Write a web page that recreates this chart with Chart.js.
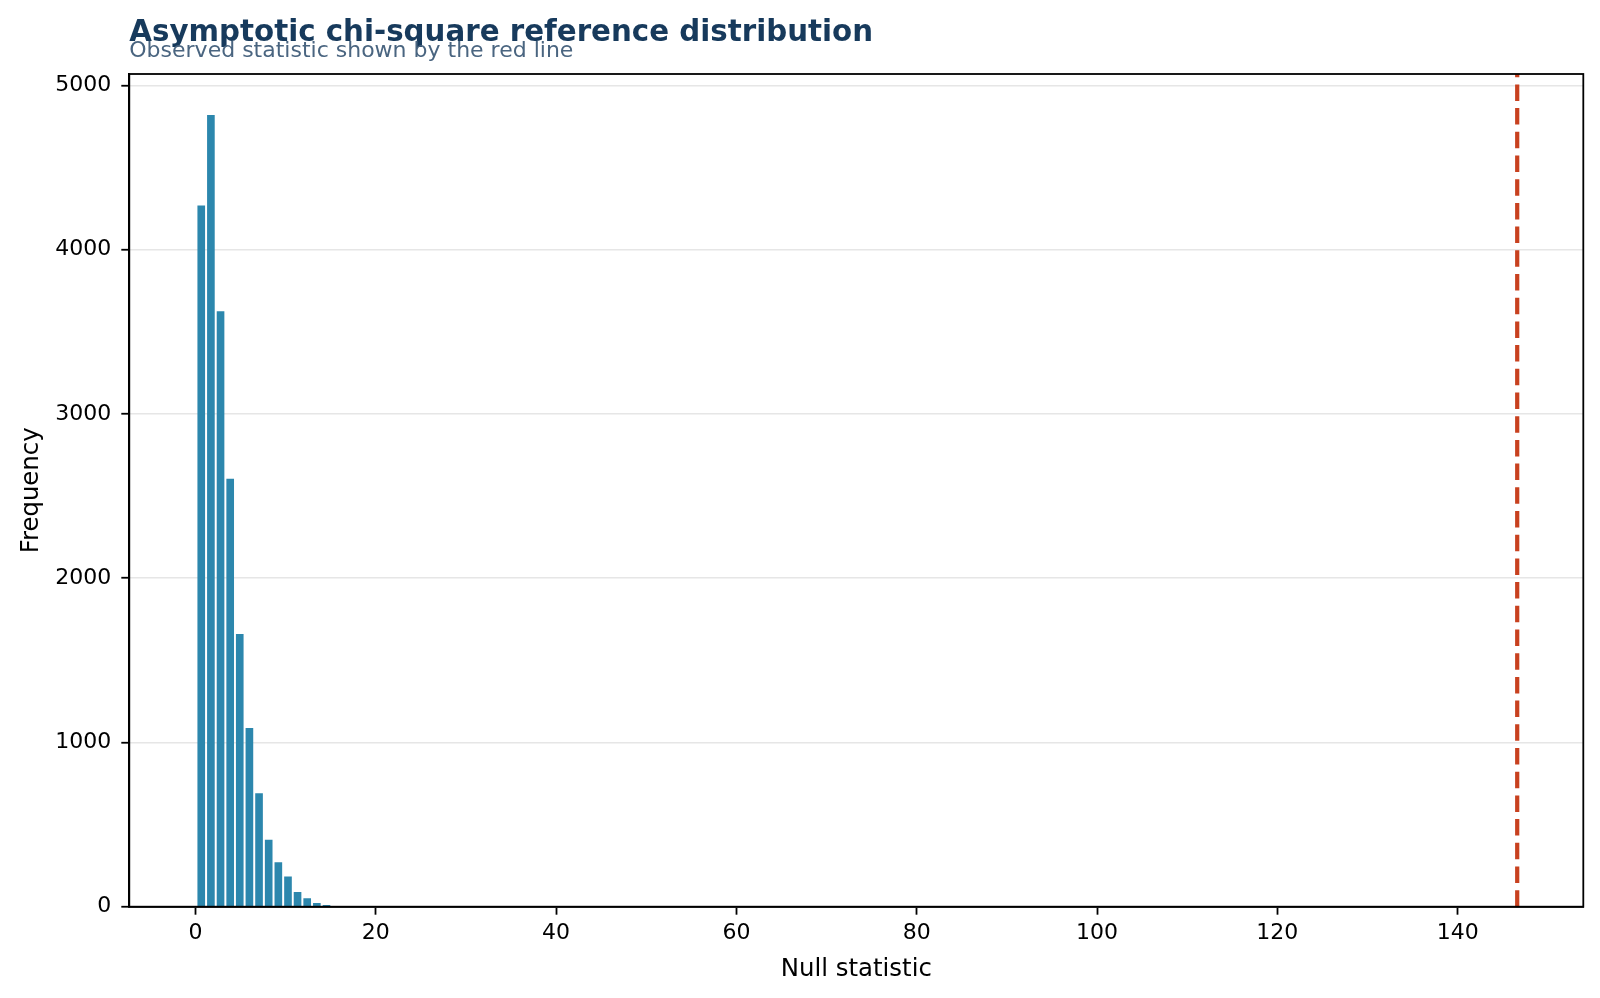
<!DOCTYPE html>
<html>
<head>
<meta charset="utf-8">
<script src="https://cdn.jsdelivr.net/npm/chart.js@4.4.1/dist/chart.umd.min.js"></script>
<style>
  html, body { margin: 0; padding: 0; background: #fff; }
  canvas { display: block; }
</style>
</head>
<body>
<canvas id="nullChart" width="1600" height="998"></canvas>
<script>
//chart data
var binCenters = [0.65, 1.72, 2.79, 3.86, 4.92, 5.99, 7.06, 8.13, 9.20, 10.27, 11.33, 12.40, 13.47, 14.54];
var counts = [4270, 4820, 3625, 2605, 1660, 1088, 691, 408, 270, 184, 89, 52, 22, 11];
var observedStat = 146.6;
var xTicks = [0, 20, 40, 60, 80, 100, 120, 140];
var yTicks = [0, 1000, 2000, 3000, 4000, 5000];

var titleText = "Asymptotic chi-square reference distribution";
var subtitleText = "Observed statistic shown by the red line";

Chart.defaults.font.family = "'DejaVu Sans', sans-serif";
Chart.defaults.color = "#000";

//observed line, box and headings
var extras = {
    id: "extras",
    afterDatasetsDraw: function (chart) {
        var ctx = chart.ctx, area = chart.chartArea;
        var px = chart.scales.x.getPixelForValue(observedStat);
        ctx.save();
        // red dashed line, pattern starting at the bottom like matplotlib
        ctx.strokeStyle = "#c8411f";
        ctx.lineWidth = 4.2;
        ctx.setLineDash([16.5, 7.2]);
        ctx.beginPath();
        ctx.moveTo(px, area.bottom);
        ctx.lineTo(px, area.top);
        ctx.stroke();
        ctx.setLineDash([]);
        // axes box
        ctx.strokeStyle = "#000";
        ctx.lineWidth = 1.8;
        ctx.strokeRect(area.left, area.top, area.right - area.left, area.bottom - area.top);
        // headings
        ctx.textAlign = "left";
        ctx.textBaseline = "alphabetic";
        ctx.fillStyle = "#173a5c";
        ctx.font = "bold 29.3px 'DejaVu Sans'";
        ctx.fillText(titleText, area.left, 40.5);
        ctx.fillStyle = "#4a6580";
        ctx.font = "22px 'DejaVu Sans'";
        ctx.fillText(subtitleText, area.left, 57);
        ctx.restore();
    }
};

function plainLabel(v) { return String(v); }

var config = {
    type: "bar",
    data: {
        datasets: [{
            data: binCenters.map(function (c, i) { return { x: c, y: counts[i] }; }),
            backgroundColor: "#2c87ad",
            borderWidth: 0,
            categoryPercentage: 1.0,
            barPercentage: 0.8
        }]
    },
    options: {
        responsive: false,
        animation: false,
        layout: { padding: { top: 74, right: 16.7, bottom: 0, left: 0 } },
        plugins: {
            legend: { display: false },
            tooltip: { enabled: false }
        },
        scales: {
            x: {
                type: "linear",
                offset: false,
                min: -7.33,
                max: 153.93,
                afterBuildTicks: function (s) { s.ticks = xTicks.map(function (v) { return { value: v }; }); },
                afterFit: function (s) { s.height = 91.3; },
                grid: { offset: false, drawOnChartArea: false, tickLength: 8, tickColor: "#000", tickWidth: 1.8 },
                border: { color: "#000", width: 1.8 },
                ticks: { font: { size: 22 }, padding: 5, maxRotation: 0, autoSkip: false, callback: plainLabel },
                title: { display: true, text: "Null statistic", font: { size: 24.4 }, padding: { top: 0, bottom: 13.5 } }
            },
            y: {
                min: 0,
                max: 5070,
                afterBuildTicks: function (s) { s.ticks = yTicks.map(function (v) { return { value: v }; }); },
                afterFit: function (s) { s.width = 129.3; },
                grid: { color: "#e6e6e6", lineWidth: 1.5, tickLength: 8, tickColor: "#000", tickWidth: 1.8 },
                border: { color: "#000", width: 1.8 },
                ticks: { font: { size: 22 }, padding: 10, callback: plainLabel },
                title: { display: true, text: "Frequency", font: { size: 24.4 }, padding: { top: 17.5, bottom: 0 } }
            }
        }
    },
    plugins: [extras]
};

var ctx = document.getElementById("nullChart");
var nullChart = new Chart(ctx, config);
</script>
</body>
</html>
